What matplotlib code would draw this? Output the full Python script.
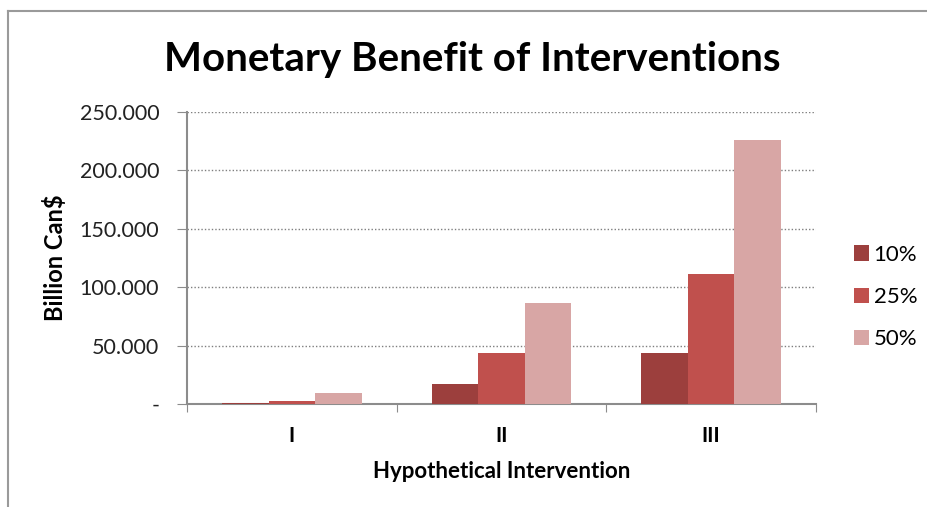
import matplotlib.pyplot as plt
import numpy as np

categories = ['I', 'II', 'III']
series_names = ['10%', '25%', '50%']
val_10 = [1.0, 17.3, 44.0]
val_25 = [2.7, 43.4, 111.5]
val_50 = [9.2, 86.3, 226.0]
ytick_vals = [0, 50, 100, 150, 200, 250]
ytick_labels = ['-', '50.000', '100.000', '150.000', '200.000', '250.000']

colors = ['#9C3F3D', '#C0504D', '#D8A6A5']
axis_gray = '#8C8C8C'

plt.rcParams['font.family'] = ['Lato', 'DejaVu Sans']

fig = plt.figure(figsize=(9.27, 5.07), dpi=100)
# outer chart frame (top and left edge only visible in the crop)
fig.add_artist(plt.Line2D([8/927, 1], [1 - 11/507, 1 - 11/507], color='#9A9A9A', lw=1.5))
fig.add_artist(plt.Line2D([8/927, 8/927], [0, 1 - 11/507], color='#9A9A9A', lw=1.5))

ax = fig.add_axes([187/927, 1 - 404/507, (816 - 187)/927, (404 - 112)/507])

x = np.arange(len(categories))
w = 1 / 4.5
for i, vals in enumerate([val_10, val_25, val_50]):
    ax.bar(x + (i - 1) * w, vals, width=w, color=colors[i], label=series_names[i], zorder=3)

ax.set_xlim(-0.5, 2.5)
ax.set_ylim(0, 250)
ax.set_yticks(ytick_vals)
ax.set_yticklabels(ytick_labels, fontsize=15.5, color='#222222')
ax.yaxis.grid(True, linestyle=(0, (1, 1.5)), color='#7F7F7F', lw=1.0, zorder=0)

ax.set_xticks([-0.5, 0.5, 1.5, 2.5])
ax.set_xticklabels([])
ax.set_xticks(x, minor=True)
ax.set_xticklabels(categories, minor=True, fontsize=15, fontweight='bold')
ax.tick_params(axis='x', which='minor', length=0, pad=16)
ax.tick_params(axis='x', which='major', length=6, color=axis_gray, direction='out')
ax.tick_params(axis='y', length=7, color=axis_gray, pad=13)

for s in ['top', 'right']:
    ax.spines[s].set_visible(False)
for s in ['left', 'bottom']:
    ax.spines[s].set_color(axis_gray)
    ax.spines[s].set_linewidth(1.5)

ax.set_ylabel('Billion Can$', fontsize=17, fontweight='bold', labelpad=9)
ax.set_xlabel('Hypothetical Intervention', fontsize=16, fontweight='bold', labelpad=11)

fig.text(472/927, 1 - 60/507, 'Monetary Benefit of Interventions', fontsize=29,
         fontweight='bold', ha='center', va='center')

leg = ax.legend(loc='center left', bbox_to_anchor=(1.028, 0.366), frameon=False,
                fontsize=16, handlelength=0.7, handleheight=0.7, handletextpad=0.2,
                labelspacing=1.0)

fig.savefig('out.png', dpi=100)
